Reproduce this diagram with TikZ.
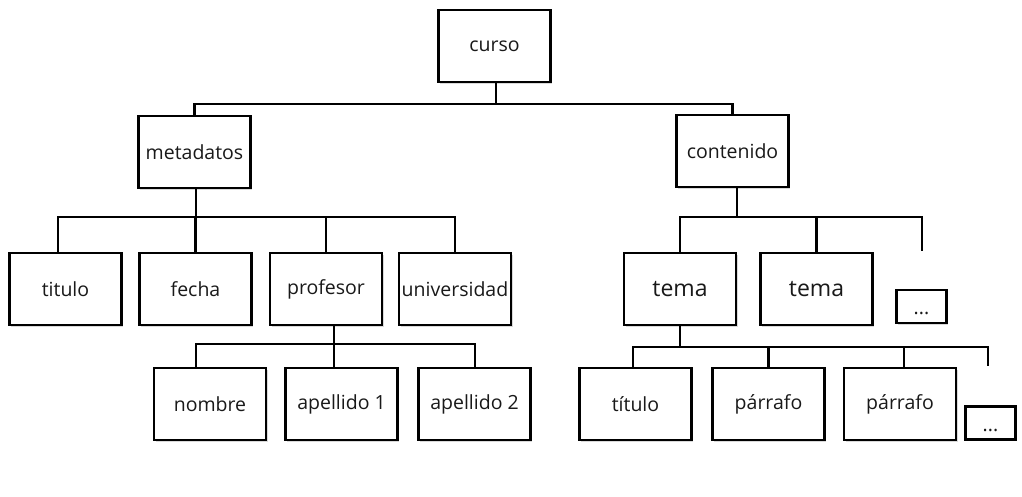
\documentclass[tikz,border=0pt]{standalone}
\usepackage{fontspec}
\setmainfont{Open Sans}
\usetikzlibrary{shadows}
\begin{document}
\begin{tikzpicture}[x=1pt,y=-1pt,
  box/.style={draw=black, line width=2.4pt, fill=white, minimum width=112pt, minimum height=72pt, inner sep=0pt,
    font=\fontsize{19.5}{22}\selectfont, text=black!90,
    drop shadow={shadow xshift=1.5pt, shadow yshift=-1.5pt, opacity=0.3}},
  dotbox/.style={box, minimum width=50pt, minimum height=33pt},
  bigbox/.style={box, font=\fontsize{23}{26}\selectfont},
  conn/.style={line width=2.2pt}]
\useasboundingbox (0,0) rectangle (1022,496);
% level 0
\node[box] (curso) at (494.5,46) {curso};
% level 1
\node[box] (meta) at (194.5,152) {metadatos};
\node[box] (cont) at (732.5,151) {contenido};
% level 2 left
\node[box] (titulo) at (65.5,289) {titulo};
\node[box] (fecha) at (195.5,289) {fecha};
\node[box] (prof) at (326,289) {profesor};
\node[box] (univ) at (455,289) {universidad};
% level 3 left
\node[box] (nombre) at (210,404) {nombre};
\node[box] (ap1) at (341.5,404) {apellido 1};
\node[box] (ap2) at (474.5,404) {apellido 2};
% level 2 right
\node[bigbox] (tema1) at (680,289) {tema};
\node[bigbox] (tema2) at (816.5,289) {tema};
\node[dotbox] (dots1) at (921.5,306.5) {\raisebox{-8pt}[0pt][0pt]{...}};
% level 3 right
\node[box] (tit) at (635.5,404) {título};
\node[box] (par1) at (768.5,404) {párrafo};
\node[box] (par2) at (900,404) {párrafo};
\node[dotbox] (dots2) at (990.5,423) {\raisebox{-8pt}[0pt][0pt]{...}};
% free ends
\coordinate (c3) at (922,251);
\coordinate (t4) at (988,366);
% connectors
\draw[conn] ([xshift=1.5pt]curso.south) -- ++(0,21) coordinate (cb);
\draw[conn] (cb) -| (meta.north);
\draw[conn] (cb) -| (cont.north);

\draw[conn] ([xshift=1.5pt]meta.south) -- ++(0,28) coordinate (mb);
\draw[conn] (mb) -| ([xshift=-7.5pt]titulo.north);
\draw[conn] (mb) -| (fecha.north);
\draw[conn] (mb) -| (prof.north);
\draw[conn] (mb) -| (univ.north);

\draw[conn] ([xshift=8pt]prof.south) -- ++(0,18) coordinate (pb);
\draw[conn] (pb) -| ([xshift=-14pt]nombre.north);
\draw[conn] (pb) -| ([xshift=-7.5pt]ap1.north);
\draw[conn] (pb) -| ([xshift=0.5pt]ap2.north);

\draw[conn] ([xshift=4.5pt]cont.south) -- ++(0,29) coordinate (kb);
\draw[conn] (kb) -| (tema1.north);
\draw[conn] (kb) -| (tema2.north);
\draw[conn] (kb) -| (c3);

\draw[conn] (tema1.south) -- ++(0,21) coordinate (tb);
\draw[conn] (tb) -| ([xshift=-2.5pt]tit.north);
\draw[conn] (tb) -| (par1.north);
\draw[conn] (tb) -| ([xshift=4pt]par2.north);
\draw[conn] (tb) -| (t4);
\end{tikzpicture}
\end{document}
